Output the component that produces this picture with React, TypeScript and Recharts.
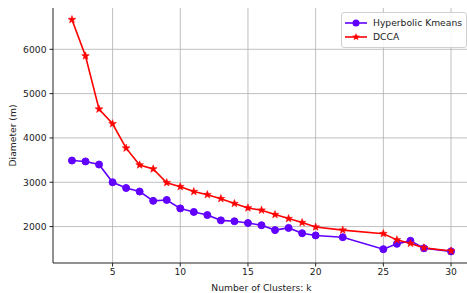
import { FC } from 'react';
import {
  LineChart,
  Line,
  XAxis,
  YAxis,
  CartesianGrid,
} from 'recharts';

const kValues = [2, 3, 4, 5, 6, 7, 8, 9, 10, 11, 12, 13, 14, 15, 16, 17, 18, 19, 20, 22, 25, 26, 27, 28, 30];
const hyperbolicKmeans = [
  3490, 3470, 3400, 3000, 2870, 2790, 2580, 2600, 2410, 2330, 2260, 2140, 2120,
  2080, 2030, 1920, 1970, 1850, 1800, 1760, 1490, 1610, 1680, 1510, 1440,
];
const dcca = [
  6670, 5850, 4650, 4320, 3770, 3390, 3300, 2990, 2900, 2790, 2720, 2630, 2520,
  2420, 2370, 2270, 2180, 2090, 1990, 1920, 1840, 1700, 1620, 1520, 1450,
];
const xTicks = [5, 10, 15, 20, 25, 30];
const yTicks = [2000, 3000, 4000, 5000, 6000];

const BLUE = '#6100ff';
const RED = '#ff0000';
const FONT = '"DejaVu Sans", sans-serif';

const data = kValues.map((k, i) => ({ k, hyper: hyperbolicKmeans[i], dcca: dcca[i] }));

const starPath = (cx: number, cy: number, outer: number, inner: number) => {
  const pts: string[] = [];
  for (let i = 0; i < 10; i++) {
    const r = i % 2 === 0 ? outer : inner;
    const a = -Math.PI / 2 + (i * Math.PI) / 5;
    pts.push(`${cx + r * Math.cos(a)},${cy + r * Math.sin(a)}`);
  }
  return pts.join(' ');
};

const StarDot = (props: any) => {
  const { cx, cy, index } = props;
  if (cx == null || cy == null) return null;
  return <polygon key={`s${index}`} points={starPath(cx, cy, 4.1, 1.7)} fill={RED} stroke={RED} strokeWidth={0.5} />;
};

const CircleDot = (props: any) => {
  const { cx, cy, index } = props;
  if (cx == null || cy == null) return null;
  return <circle key={`c${index}`} cx={cx} cy={cy} r={3.5} fill={BLUE} stroke={BLUE} />;
};

const LegendBox: FC = () => (
  <div
    style={{
      position: 'absolute',
      top: 12,
      left: 341,
      border: '1px solid #d0d0d0',
      borderRadius: 3,
      background: 'rgba(255,255,255,0.85)',
      padding: '3px 4px 3px 2px',
      fontFamily: FONT,
      fontSize: 9.2,
      color: '#222',
      lineHeight: '14px',
    }}
  >
    <div style={{ display: 'flex', alignItems: 'center' }}>
      <svg width={24} height={12}>
        <line x1={1} y1={6} x2={23} y2={6} stroke={BLUE} strokeWidth={1.6} />
        <circle cx={12} cy={6} r={3.5} fill={BLUE} />
      </svg>
      <span style={{ marginLeft: 5 }}>Hyperbolic Kmeans</span>
    </div>
    <div style={{ display: 'flex', alignItems: 'center' }}>
      <svg width={24} height={12}>
        <line x1={1} y1={6} x2={23} y2={6} stroke={RED} strokeWidth={1.6} />
        <polygon points={starPath(12, 6, 4.1, 1.7)} fill={RED} />
      </svg>
      <span style={{ marginLeft: 5 }}>DCCA</span>
    </div>
  </div>
);

const App: FC = () => {
  return (
    <div style={{ position: 'absolute', left: 0, top: 0, width: 467, height: 293, overflow: 'hidden', background: '#fff' }}>
      <LineChart width={478} height={293} data={data} margin={{ top: 8, right: 8, left: 0, bottom: 0 }}>
        <CartesianGrid stroke="#b0b0b0" strokeWidth={0.8} verticalValues={xTicks} horizontalValues={yTicks} />
        <XAxis
          dataKey="k"
          type="number"
          domain={[0.6, 31.4]}
          ticks={xTicks}
          allowDataOverflow
          height={30}
          tick={{ fontSize: 9.2, fill: '#222', fontFamily: FONT }}
          tickSize={3.5}
          tickMargin={2}
          stroke="#222"
          label={{ value: 'Number of Clusters: k', position: 'insideBottom', offset: 2, fontSize: 9.2, fill: '#222', fontFamily: FONT }}
        />
        <XAxis xAxisId="top" orientation="top" dataKey="k" type="number" domain={[0.6, 31.4]} height={0} tick={false} tickLine={false} stroke="#222" />
        <YAxis
          type="number"
          domain={[1178, 6932]}
          ticks={yTicks}
          allowDataOverflow
          width={53}
          tick={{ fontSize: 9.2, fill: '#222', fontFamily: FONT }}
          tickSize={3.5}
          tickMargin={3}
          stroke="#222"
          label={{ value: 'Diameter (m)', angle: -90, position: 'insideLeft', offset: 13, fontSize: 9.2, fill: '#222', fontFamily: FONT, style: { textAnchor: 'middle' } }}
        />
        <Line dataKey="hyper" name="Hyperbolic Kmeans" stroke={BLUE} strokeWidth={1.6} dot={CircleDot} isAnimationActive={false} />
        <Line dataKey="dcca" name="DCCA" stroke={RED} strokeWidth={1.6} dot={StarDot} isAnimationActive={false} />
      </LineChart>
      <LegendBox />
    </div>
  );
};

export default App;
